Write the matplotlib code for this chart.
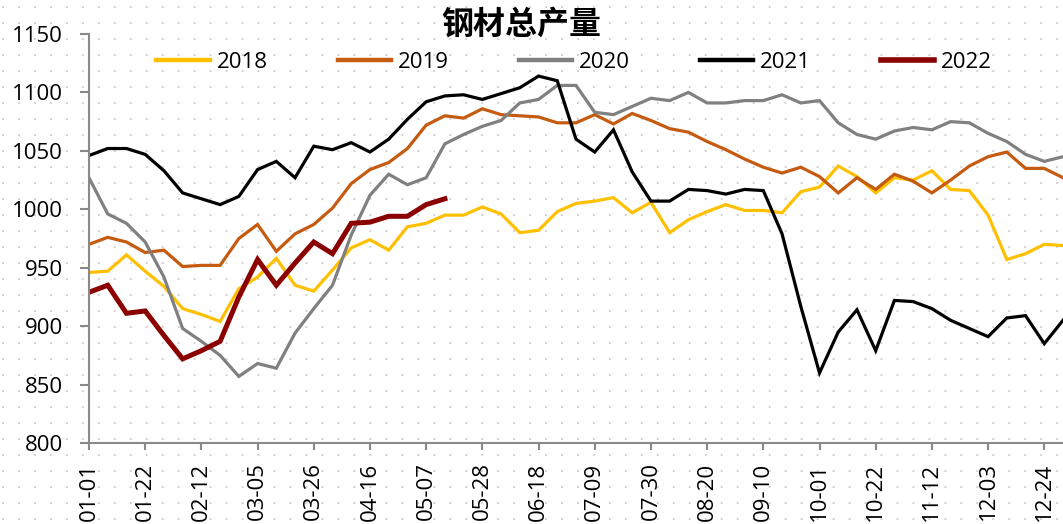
import numpy as np
import matplotlib
matplotlib.use("Agg")
import matplotlib.pyplot as plt

plt.rcParams['font.family'] = ['Open Sans', 'Noto Sans CJK SC', 'DejaVu Sans']
plt.rcParams['lines.scale_dashes'] = False

# weekly steel output, index 0 = 01-01
y2018 = [946, 947, 961, 947, 934, 915, 910, 904, 932, 942, 958, 935, 930, 948, 967, 974, 965, 985,
         988, 995, 995, 1002, 996, 980, 982, 998, 1005, 1007, 1010, 997, 1006, 980, 991, 998, 1004, 999,
         999, 997, 1015, 1019, 1037, 1028, 1014, 1027, 1025, 1033, 1017, 1016, 995, 957, 962, 970, 969]
y2019 = [970, 976, 972, 963, 965, 951, 952, 952, 975, 987, 964, 979, 987, 1001, 1022, 1034, 1040, 1052,
         1072, 1080, 1078, 1086, 1081, 1080, 1079, 1074, 1074, 1081, 1073, 1082, 1076, 1069, 1066, 1058, 1051, 1043,
         1036, 1031, 1036, 1028, 1014, 1027, 1017, 1030, 1024, 1014, 1025, 1037, 1045, 1049, 1035, 1035, 1027]
y2020 = [1027, 996, 988, 972, 942, 898, 887, 875, 857, 868, 864, 894, 915, 935, 978, 1012, 1030, 1021,
         1027, 1056, 1064, 1071, 1076, 1091, 1094, 1106, 1106, 1083, 1081, 1088, 1095, 1093, 1100, 1091, 1091, 1093,
         1093, 1098, 1091, 1093, 1074, 1064, 1060, 1067, 1070, 1068, 1075, 1074, 1065, 1058, 1047, 1041, 1045]
y2021 = [1046, 1052, 1052, 1047, 1033, 1014, 1009, 1004, 1011, 1034, 1041, 1027, 1054, 1051, 1057, 1049, 1060, 1077,
         1092, 1097, 1098, 1094, 1099, 1104, 1114, 1110, 1060, 1049, 1068, 1032, 1007, 1007, 1017, 1016, 1013, 1017,
         1016, 979, 917, 860, 895, 914, 879, 922, 921, 915, 905, 898, 891, 907, 909, 885, 905]
y2022 = [929, 935, 911, 913, 892, 872, 879, 887, 925, 957, 935, 954, 972, 962, 988, 989, 994, 994,
         1004, 1009]

tick_labels = ['01-01', '01-22', '02-12', '03-05', '03-26', '04-16', '05-07', '05-28', '06-18',
               '07-09', '07-30', '08-20', '09-10', '10-01', '10-22', '11-12', '12-03', '12-24']

series = [('2018', y2018, '#FFC000', 2.3),
          ('2019', y2019, '#C55A11', 2.3),
          ('2020', y2020, '#808080', 2.3),
          ('2021', y2021, '#000000', 2.3),
          ('2022', y2022, '#8B0000', 3.6)]

fig = plt.figure(figsize=(10.63, 5.24), dpi=100)

# dotted background pattern
bg = fig.add_axes([0, 0, 1, 1], zorder=0)
bg.set_xlim(0, 1063)
bg.set_ylim(524, 0)
bg.axis('off')
for yy in np.arange(7, 524, 16):
    bg.plot([2, 1063], [yy, yy], color='#d2d2d2', lw=1.4, ls=(0, (1.4, 10.1)))

ax = fig.add_axes([89 / 1063, 1 - 443 / 524, 1 - 89 / 1063, (443 - 34) / 524], zorder=1)
ax.set_facecolor('none')

for name, vals, col, lw in series:
    ax.plot(np.arange(len(vals)), vals, color=col, lw=lw, label=name, solid_joinstyle='miter')

ax.set_xlim(0, 52)
ax.set_ylim(800, 1150)
ax.set_yticks(np.arange(800, 1151, 50))
ax.set_xticks(np.arange(0, 52, 3))
ax.set_xticklabels(tick_labels, rotation=90)

for s in ['top', 'right']:
    ax.spines[s].set_visible(False)
for s in ['left', 'bottom']:
    ax.spines[s].set_color('#898989')
    ax.spines[s].set_linewidth(1.5)
ax.tick_params(axis='y', length=6.5, width=1.5, color='#898989', pad=12, labelsize=16)
ax.tick_params(axis='x', length=5, width=1.5, color='#898989', pad=9, labelsize=16)

fig.text(521 / 1063, 1 - 25 / 524, '钢材总产量', ha='center', va='center',
         fontsize=23, fontweight='bold', family=['Noto Sans CJK SC', 'DejaVu Sans'])

leg = fig.legend(loc='center', bbox_to_anchor=(574 / 1063, 1 - 62 / 524), ncol=5, frameon=False,
                 fontsize=16, handlelength=2.4, handletextpad=0.3, columnspacing=3.15)
for h in leg.get_lines():
    h.set_linewidth(3.2)
leg.get_lines()[-1].set_linewidth(4.0)

fig.savefig('out.png', dpi=100)
